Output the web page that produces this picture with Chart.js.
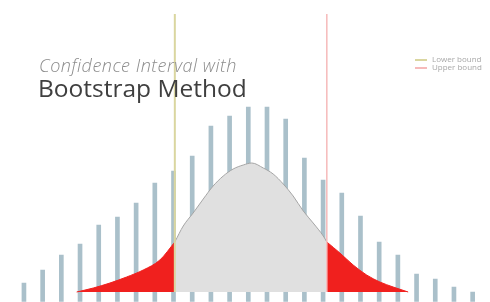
<!doctype html>
<html lang="en">
  <head>
    <title>Confidence Interval with Bootstrap Method</title>
    <meta charset="utf-8" />
    <style>
      html, body { margin: 0; padding: 0; background: #fff; }
      #chart { display: block; }
    </style>
  </head>
  <body>
    <canvas id="chart" width="490" height="302"></canvas>

    <script src="https://cdn.jsdelivr.net/npm/chart.js@4.4.1/dist/chart.umd.min.js"></script>
    <script>
      // histogram of bootstrap replicates (bin index -> height)
      const bins = [1, 2, 3, 4, 5, 6, 7, 8, 9, 10, 11, 12, 13, 14, 15, 16, 17, 18, 19, 20, 21, 22, 23, 24, 25];
      const binCounts = [9, 22, 37, 48, 67, 75, 89, 109, 121, 136, 166, 176, 185, 185, 173, 134, 112, 99, 76, 50, 37, 18, 13, 5, 0];

      // fitted density curve
      const curveX = [3.82, 4.71, 5.6, 6.49, 7.38, 8.27, 9.07, 9.52, 10.05, 10.59, 11.12, 11.66, 12.19, 12.73, 13.19,
                      13.8, 14.33, 14.87, 15.4, 15.94, 16.47, 17.01, 17.2, 17.9, 18.61, 19.33, 20.04, 20.75, 21.55];
      const curveY = [0, 4, 9, 15, 22, 32, 50, 66, 79, 93, 106, 116, 123, 127, 129,
                      124, 118, 108, 96, 81, 69, 56, 50, 39, 27, 17, 10, 5, 0];

      const ciLower = 9.07;
      const ciUpper = 17.2;
      const legendLabels = ["Lower bound", "Upper bound"];

      const yMin = -10;
      const yMax = 278;

      const curve = curveX.map((x, i) => ({ x: x, y: curveY[i] }));
      const leftTail = curve.filter((p) => p.x <= ciLower);
      const middle = curve.filter((p) => p.x >= ciLower && p.x <= ciUpper);
      const rightTail = curve.filter((p) => p.x >= ciUpper);

      const olive = "rgb(218, 214, 160)";
      const pink = "rgb(246, 186, 186)";
      const red = "rgb(240, 32, 30)";

      const overlay = {
        id: "overlay",
        afterDraw(chart) {
          const c = chart.ctx;
          c.save();
          c.textBaseline = "alphabetic";
          c.fillStyle = "#8c8c8c";
          c.font = "italic 300 18px 'Open Sans'";
          c.letterSpacing = "0.5px";
          c.fillText("Confidence Interval with", 39, 72);
          c.letterSpacing = "0px";
          c.fillStyle = "#3f3f3f";
          c.font = "400 24.5px 'Open Sans'";
          c.fillText("Bootstrap Method", 38, 97);

          // legend
          const colors = [olive, pink];
          c.font = "400 8px 'Open Sans'";
          c.textBaseline = "middle";
          legendLabels.forEach((label, i) => {
            const y = 60 + i * 8;
            c.strokeStyle = colors[i];
            c.lineWidth = 2;
            c.beginPath();
            c.moveTo(415, y);
            c.lineTo(427, y);
            c.stroke();
            c.fillStyle = "#a8a8a8";
            c.fillText(label, 432, y);
          });
          c.restore();
        },
      };

      const ctx = document.getElementById("chart");
      new Chart(ctx, {
        type: "bar",
        data: {
          datasets: [
            {
              type: "line",
              label: legendLabels[0],
              data: [{ x: ciLower, y: 0 }, { x: ciLower, y: yMax }],
              borderColor: olive,
              borderWidth: 2,
              pointRadius: 0,
              order: 1,
            },
            {
              type: "line",
              label: legendLabels[1],
              data: [{ x: ciUpper, y: 0 }, { x: ciUpper, y: yMax }],
              borderColor: pink,
              borderWidth: 1.5,
              pointRadius: 0,
              order: 1,
            },
            {
              type: "line",
              data: leftTail,
              borderColor: red,
              backgroundColor: red,
              borderWidth: 1,
              pointRadius: 0,
              cubicInterpolationMode: "monotone",
              fill: { value: 0 },
              order: 2,
            },
            {
              type: "line",
              data: middle,
              borderColor: "rgb(165, 165, 165)",
              backgroundColor: "rgb(224, 224, 224)",
              borderWidth: 1,
              pointRadius: 0,
              cubicInterpolationMode: "monotone",
              fill: { value: 0 },
              order: 2,
            },
            {
              type: "line",
              data: rightTail,
              borderColor: red,
              backgroundColor: red,
              borderWidth: 1,
              pointRadius: 0,
              cubicInterpolationMode: "monotone",
              fill: { value: 0 },
              order: 2,
            },
            {
              type: "bar",
              data: bins.map((b, i) => ({ x: b, y: binCounts[i] })),
              backgroundColor: "rgb(170, 192, 202)",
              barThickness: 4,
              base: yMin,
              order: 3,
            },
          ],
        },
        options: {
          responsive: false,
          animation: false,
          layout: {
            padding: { left: 14.6, right: 8, top: 14, bottom: 0 },
          },
          plugins: {
            legend: { display: false },
            tooltip: { enabled: false },
          },
          scales: {
            x: {
              type: "linear",
              min: 0.5,
              max: 25.5,
              offset: false,
              display: false,
            },
            y: {
              min: yMin,
              max: yMax,
              ticks: { display: false },
              border: { display: false },
              grid: {
                drawTicks: false,
                color: (c) => (c.tick && c.tick.value === 0 ? "rgb(150, 150, 150)" : "rgba(0,0,0,0)"),
              },
              afterFit: (s) => {
                s.width = 0;
              },
            },
          },
        },
        plugins: [overlay],
      });
    </script>
  </body>
</html>
